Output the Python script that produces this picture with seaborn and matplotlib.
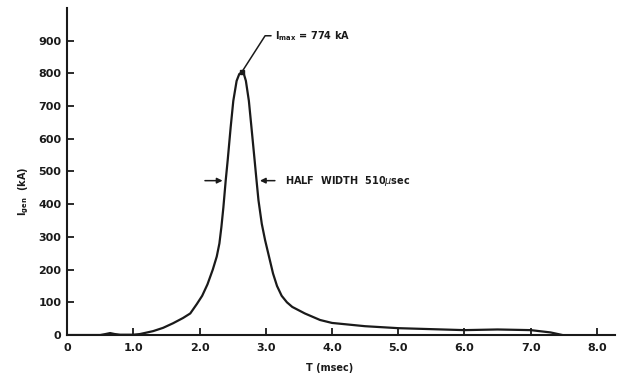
import matplotlib
matplotlib.use("Agg")
import matplotlib.pyplot as plt
import seaborn as sns
import pandas as pd

# Data
T_ms = [0, 0.5, 0.58, 0.65, 0.72, 0.8, 1.0, 1.1, 1.3, 1.45, 1.6, 1.75, 1.86,
        1.96, 2.04, 2.12, 2.20, 2.26, 2.30, 2.33, 2.36, 2.395, 2.425, 2.47,
        2.51, 2.56, 2.60, 2.635, 2.67, 2.70, 2.745, 2.784, 2.832, 2.861, 2.89,
        2.94, 2.99, 3.05, 3.11, 3.17, 3.24, 3.32, 3.4, 3.59, 3.82, 4.0, 4.5,
        5.0, 5.5, 6.0, 6.5, 7.0, 7.3, 7.48]
I_kA = [0, 0, 3, 6, 3, 1, 1, 3, 12, 22, 36, 52, 66,
        95, 120, 155, 200, 240, 280, 330, 390, 472, 534, 635,
        716, 777, 798, 803, 798, 777, 716, 635, 534, 472, 412,
        340, 290, 239, 188, 150, 120, 100, 86, 66, 46, 37, 27,
        21, 18, 15, 17, 15, 8, 0]
x_ticks = [0, 1, 2, 3, 4, 5, 6, 7, 8]
x_tick_labels = ["0", "1.0", "2.0", "3.0", "4.0", "5.0", "6.0", "7.0", "8.0"]
y_ticks = [0, 100, 200, 300, 400, 500, 600, 700, 800, 900]
peak_label = r"I$_{\mathbf{max}}$ = 774 kA"
half_width_label = r"HALF  WIDTH  510$\mu$sec"

sns.set_theme(style="ticks")
plt.rcParams["font.family"] = ["DejaVu Sans"]

df = pd.DataFrame({"T": T_ms, "I": I_kA})

fig = plt.figure(figsize=(6.21, 3.79), dpi=100)
ax = fig.add_axes([0.108, 0.116, 0.882, 0.863])

sns.lineplot(data=df, x="T", y="I", ax=ax, color="#1a1a1a", linewidth=1.6)

ax.set_xlim(0, 8.27)
ax.set_ylim(0, 1000)
ax.set_xticks(x_ticks)
ax.set_xticklabels(x_tick_labels)
ax.set_yticks(y_ticks)
ax.tick_params(direction="in", length=5, width=1.3, colors="#1a1a1a",
               labelsize=8, pad=4)
for lab in ax.get_xticklabels() + ax.get_yticklabels():
    lab.set_fontweight("bold")
ax.tick_params(axis="x", pad=6)

sns.despine(ax=ax)
for s in ["left", "bottom"]:
    ax.spines[s].set_linewidth(1.5)
    ax.spines[s].set_color("#1a1a1a")

ax.set_xlabel("T (msec)", fontsize=7, fontweight="bold", color="#1a1a1a")
ax.xaxis.set_label_coords(0.48, -0.085)
ax.set_ylabel(r"I$_{\mathbf{gen}}$  (kA)", fontsize=7, fontweight="bold",
              color="#1a1a1a")
ax.yaxis.set_label_coords(-0.065, 0.44)

# Peak annotation
ax.plot([2.635, 2.99, 3.08], [803, 915, 915], color="#1a1a1a", linewidth=1.1)
ax.plot([2.635], [803], marker="s", markersize=3, color="#1a1a1a")
ax.text(3.14, 915, peak_label, fontsize=7, fontweight="bold", va="center",
        ha="left", color="#1a1a1a")

# Half-width arrows
ax.annotate("", xy=(2.39, 472), xytext=(2.04, 472),
            arrowprops=dict(arrowstyle="-|>", color="#1a1a1a", lw=1.1,
                            mutation_scale=8))
ax.annotate("", xy=(2.87, 472), xytext=(3.18, 472),
            arrowprops=dict(arrowstyle="-|>", color="#1a1a1a", lw=1.1,
                            mutation_scale=8))
ax.text(3.29, 472, half_width_label, fontsize=7, fontweight="bold",
        va="center", ha="left", color="#1a1a1a")

fig.savefig("out.png", dpi=100)
